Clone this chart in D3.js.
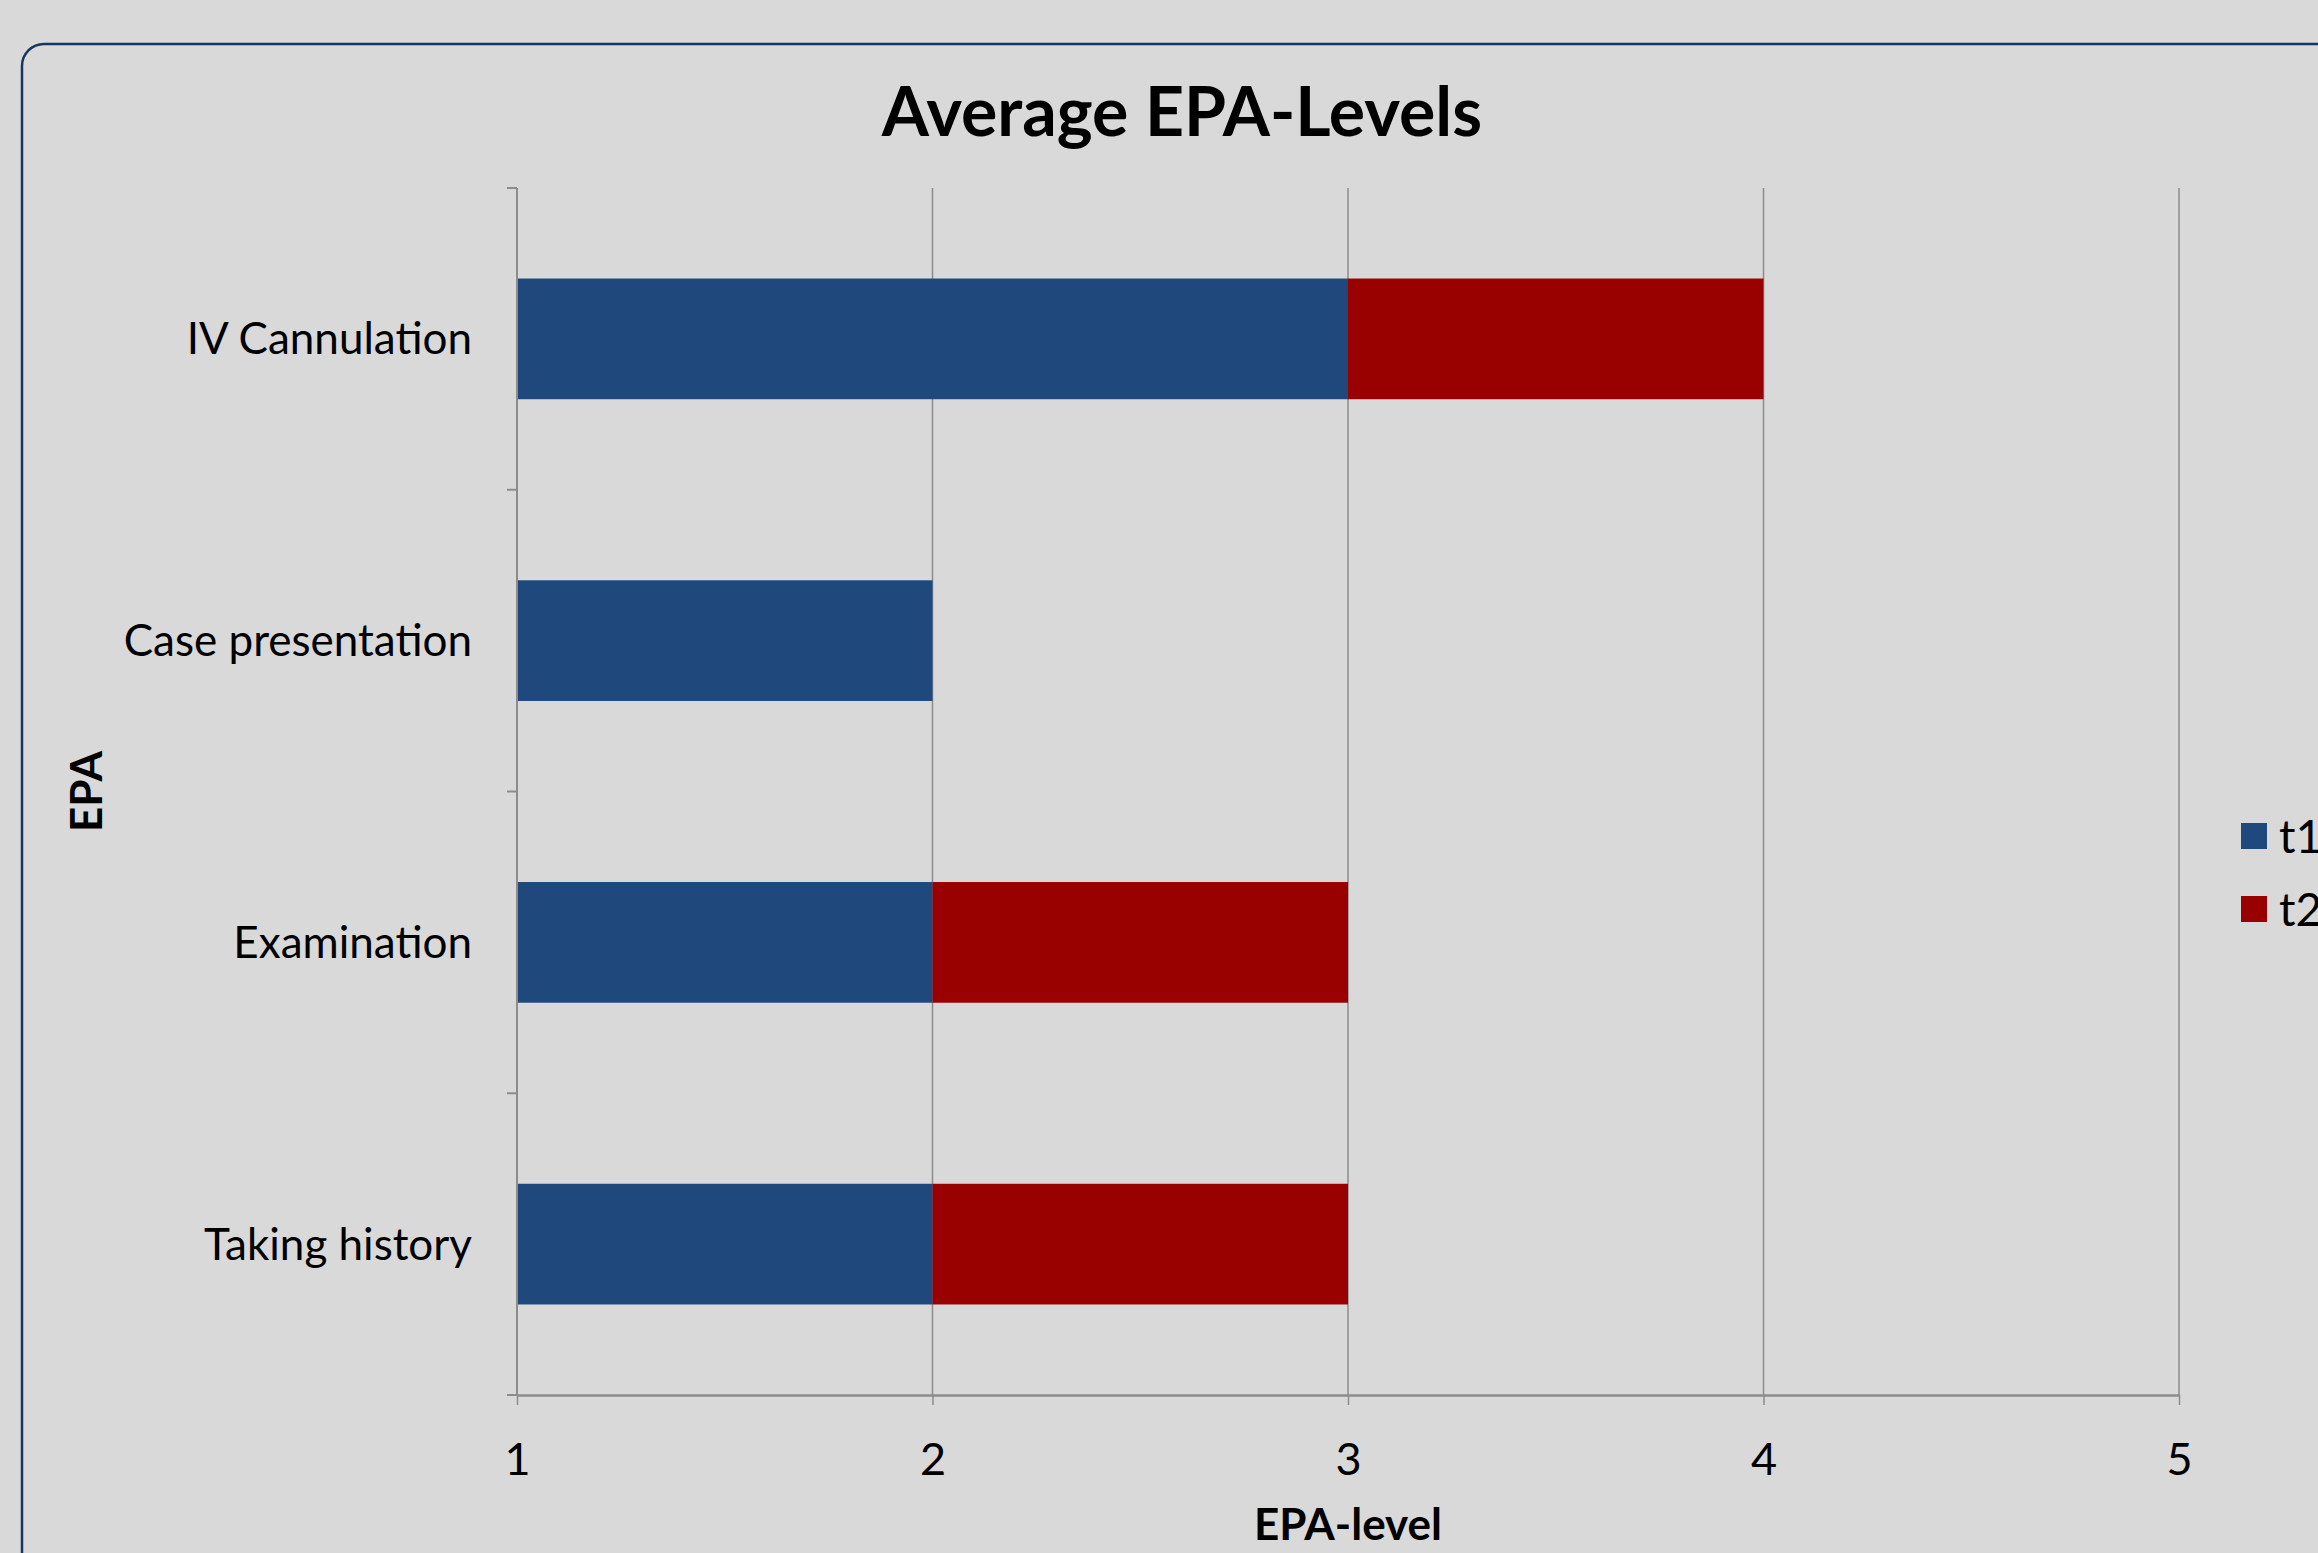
<!DOCTYPE html>
<html>
<head>
<meta charset="utf-8">
<script src="https://cdn.jsdelivr.net/npm/d3@7"></script>
<style>
  html, body { margin: 0; padding: 0; background: #d9d9d9; overflow: hidden; }
  text { font-family: Lato, "Open Sans", sans-serif; fill: #000; }
</style>
</head>
<body>
<div id="chart-area"></div>
<script>
var categories = ['IV Cannulation', 'Case presentation', 'Examination', 'Taking history'];
var t1 = [3, 2, 2, 2];
var t2 = [1, 0, 1, 1];
var seriesNames = ['t1', 't2'];
var xTicks = [1, 2, 3, 4, 5];

var W = 2318, H = 1553;
var margin = { top: 188, right: 139, bottom: 158, left: 517 };
var width = W - margin.left - margin.right;
var height = H - margin.top - margin.bottom;

var colors = { t1: '#1f497d', t2: '#990000' };

var svg = d3.select('#chart-area')
    .append('svg')
    .attr('width', W)
    .attr('height', H);

svg.append('rect')
    .attr('width', W).attr('height', H)
    .attr('fill', '#d9d9d9');

// chart frame (runs off the right and bottom edges)
svg.append('rect')
    .attr('x', 22).attr('y', 44)
    .attr('width', W + 40).attr('height', H + 40)
    .attr('rx', 22).attr('ry', 22)
    .attr('fill', 'none')
    .attr('stroke', '#17375e')
    .attr('stroke-width', 2.5);

svg.append('text')
    .attr('x', 1182).attr('y', 136)
    .attr('text-anchor', 'middle')
    .style('font-size', '68px')
    .style('font-weight', 'bold')
    .text('Average EPA-Levels');

var g = svg.append('g')
    .attr('transform', 'translate(' + margin.left + ',' + margin.top + ')');

var rows = categories.map(function (c, i) {
    return { name: c, t1: t1[i], t2: t2[i] };
});

var stack = d3.stack().keys(seriesNames);
var layers = stack(rows);

var x = d3.scaleLinear()
    .domain([1, 5])
    .range([0, width]);

var y = d3.scaleBand()
    .domain(categories)
    .range([0, height])
    .paddingInner(0.6)
    .paddingOuter(0.3);

// vertical gridlines
g.append('g')
    .selectAll('line')
    .data(xTicks.slice(1))
    .enter()
    .append('line')
    .attr('x1', function (d) { return x(d); })
    .attr('x2', function (d) { return x(d); })
    .attr('y1', 0)
    .attr('y2', height)
    .attr('stroke', '#8c8c8c')
    .attr('stroke-width', 1.5);

// bars
g.selectAll('.layer')
    .data(layers)
    .enter()
    .append('g')
    .attr('class', 'layer')
    .attr('fill', function (d) { return colors[d.key]; })
    .selectAll('rect')
    .data(function (d) { return d; })
    .enter()
    .append('rect')
    .attr('x', function (d) { return x(Math.max(d[0], 1)); })
    .attr('y', function (d) { return y(d.data.name); })
    .attr('width', function (d) { return Math.max(0, x(d[1]) - x(Math.max(d[0], 1))); })
    .attr('height', y.bandwidth());

// x axis
var xAxisCall = d3.axisBottom(x)
    .tickValues(xTicks)
    .tickSize(10)
    .tickSizeOuter(0)
    .tickPadding(38)
    .tickFormat(d3.format('d'));
var xAxis = g.append('g')
    .attr('class', 'x-axis')
    .attr('transform', 'translate(0,' + height + ')')
    .call(xAxisCall);
xAxis.select('.domain').attr('stroke', '#8c8c8c').attr('stroke-width', 2.5);
xAxis.selectAll('line').attr('stroke', '#8c8c8c').attr('stroke-width', 1.5);
xAxis.selectAll('text')
    .style('font-size', '45px')
    .attr('fill', '#000');

// y axis: line plus ticks at category boundaries
g.append('line')
    .attr('x1', 0).attr('x2', 0)
    .attr('y1', 0).attr('y2', height)
    .attr('stroke', '#8c8c8c')
    .attr('stroke-width', 2);

var step = y.step();
g.append('g')
    .selectAll('line')
    .data(d3.range(categories.length + 1))
    .enter()
    .append('line')
    .attr('x1', -10).attr('x2', 0)
    .attr('y1', function (d) { return d * step; })
    .attr('y2', function (d) { return d * step; })
    .attr('stroke', '#8c8c8c')
    .attr('stroke-width', 2);

g.append('g')
    .selectAll('text')
    .data(categories)
    .enter()
    .append('text')
    .attr('x', -45)
    .attr('y', function (d) { return y(d) + y.bandwidth() / 2; })
    .attr('dy', '0.35em')
    .attr('text-anchor', 'end')
    .style('font-size', '44px')
    .text(function (d) { return d; });

// axis titles
svg.append('text')
    .attr('x', margin.left + width / 2)
    .attr('y', 1540)
    .attr('text-anchor', 'middle')
    .style('font-size', '44px')
    .style('font-weight', 'bold')
    .text('EPA-level');

svg.append('text')
    .attr('transform', 'translate(102,' + (margin.top + height / 2) + ') rotate(-90)')
    .attr('text-anchor', 'middle')
    .style('font-size', '44px')
    .style('font-weight', 'bold')
    .text('EPA');

// legend
var legend = svg.append('g')
    .attr('transform', 'translate(2241,823)');
var items = legend.selectAll('g')
    .data(seriesNames)
    .enter()
    .append('g')
    .attr('transform', function (d, i) { return 'translate(0,' + i * 73 + ')'; });
items.append('rect')
    .attr('width', 26).attr('height', 26)
    .attr('fill', function (d) { return colors[d]; });
items.append('text')
    .attr('x', 38).attr('y', 13)
    .attr('dy', '0.36em')
    .style('font-size', '46px')
    .text(function (d) { return d; });
</script>
</body>
</html>
